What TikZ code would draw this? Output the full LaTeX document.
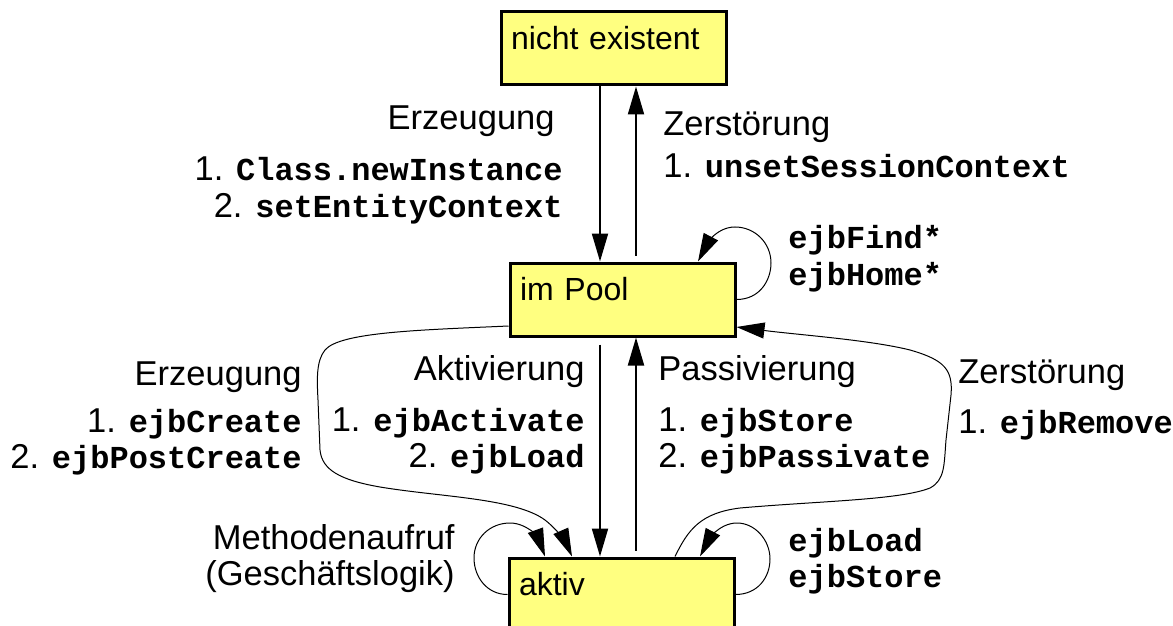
\documentclass[tikz,border=0pt]{standalone}
\usepackage{fontspec}
\setmainfont{Liberation Sans}
\newfontfamily\codefont{Liberation Mono}
\usetikzlibrary{arrows.meta}
\definecolor{beanyellow}{RGB}{255,255,128}
\newcommand{\meth}[1]{{\fontsize{16}{18}\selectfont\codefont\bfseries #1}}
\tikzset{
  statebox/.style={draw, line width=1.5pt, fill=beanyellow, minimum height=36.5pt,
    text width=102.5pt, inner xsep=5pt, align=left, text height=8pt, text depth=7pt},
  trans/.style={-{Triangle[length=14pt,width=8pt]}, line width=1pt},
  curvy/.style={-{Triangle[length=14pt,width=8pt]}, line width=0.5pt},
  lbl/.style={inner sep=0pt, font=\fontsize{17.25}{18}\selectfont}
}

\begin{document}
\begin{tikzpicture}[x=0.5pt, y=-0.5pt, font=\fontsize{16}{18}\selectfont]
\useasboundingbox (0,0) rectangle (1173,626);
\clip (0,0) rectangle (1173,626);
% states
\node[statebox] (none) at (613.5,48.5) {nicht existent};
\node[statebox] (pool) at (622.5,299.5) {im Pool};
\node[statebox] (aktiv) at (621.5,594.5) {aktiv};
% columns of the straight arrows
\coordinate (down) at (600,0);
\coordinate (up) at (636,0);

\draw[trans] (down |- none.south) -- (down |- pool.north);
\draw[trans] ([yshift=3pt]up |- pool.north) -- (up |- none.south);
\draw[trans] ([yshift=-3.5pt]down |- pool.south) -- (down |- aktiv.north);
\draw[trans] ([yshift=3pt]up |- aktiv.north) -- (up |- pool.south);

% loops
\draw[curvy] (pool.east) .. controls (760,299.5) and (771,280) .. (771,263)
  .. controls (771,243) and (755,227) .. (735,227)
  .. controls (715,227) and (705,248) .. ([xshift=37.75pt]pool.north);
\draw[curvy] (aktiv.east) .. controls (758,594.5) and (770,577) .. (770,559)
  .. controls (770,540) and (755,523) .. (737,523)
  .. controls (718,523) and (707,543) .. ([xshift=39.25pt]aktiv.north);
\draw[curvy] (aktiv.west) .. controls (487,594.5) and (474,577) .. (474,558)
  .. controls (474,538) and (490,523) .. (510,523)
  .. controls (528,523) and (539,540) .. ([xshift=-38.25pt]aktiv.north);

% long way round
\draw[curvy] ([yshift=-13.25pt]pool.west) .. controls (420,330) and (340,332) .. (325,350)
  .. controls (316,361) and (317,380) .. (318,400) -- (320,450)
  .. controls (322,470) and (340,480) .. (380,487)
  .. controls (440,497) and (515,498) .. (545,520)
  .. controls (558,530) and (567,545) .. ([xshift=-24.75pt]aktiv.north);
\draw[curvy] ([xshift=26.75pt]aktiv.north) .. controls (688,530) and (700,513) .. (740,508)
  .. controls (820,501) and (900,500) .. (930,488)
  .. controls (945,480) and (944,465) .. (946,440) -- (951,395)
  .. controls (953,370) and (945,360) .. (910,350)
  .. controls (870,340) and (800,335) .. ([yshift=-13.75pt]pool.east);

% labels (multi-line ones sit on their last baseline)
\node[lbl, anchor=base east] (create) at (555,130) {Erzeugung};
\node[lbl, anchor=base east, align=right] (createcalls) at (563,217)
  {1. \meth{Class.newInstance}\\2. \meth{setEntityContext}};
\node[lbl, anchor=base west] (destroy) at (663,135) {Zerstörung};
\node[lbl, anchor=base west] (destroycalls) at (663,177) {1. \meth{unsetSessionContext}};
\node[lbl, anchor=base west, align=left] (poolcalls) at (788,285)
  {\meth{ejbFind*}\\\meth{ejbHome*}};
\node[lbl, anchor=base east] (bcreate) at (302,385) {Erzeugung};
\node[lbl, anchor=base east, align=right] (bcreatecalls) at (302,468)
  {1. \meth{ejbCreate}\\2. \meth{ejbPostCreate}};
\node[lbl, anchor=base east] (activate) at (585,380) {Aktivierung};
\node[lbl, anchor=base east, align=right] (activatecalls) at (585,467)
  {1. \meth{ejbActivate}\\2. \meth{ejbLoad}};
\node[lbl, anchor=base west] (passivate) at (658,380) {Passivierung};
\node[lbl, anchor=base west, align=left] (passivatecalls) at (658,467)
  {1. \meth{ejbStore}\\2. \meth{ejbPassivate}};
\node[lbl, anchor=base west] (remove) at (958,383) {Zerstörung};
\node[lbl, anchor=base west] (removecalls) at (958,433) {1. \meth{ejbRemove}};
\node[lbl, anchor=base east, align=right] (business) at (455,585)
  {Methodenaufruf\\(Geschäftslogik)};
\node[lbl, anchor=base west, align=left] (aktivcalls) at (788,587)
  {\meth{ejbLoad}\\\meth{ejbStore}};
\end{tikzpicture}
\end{document}
